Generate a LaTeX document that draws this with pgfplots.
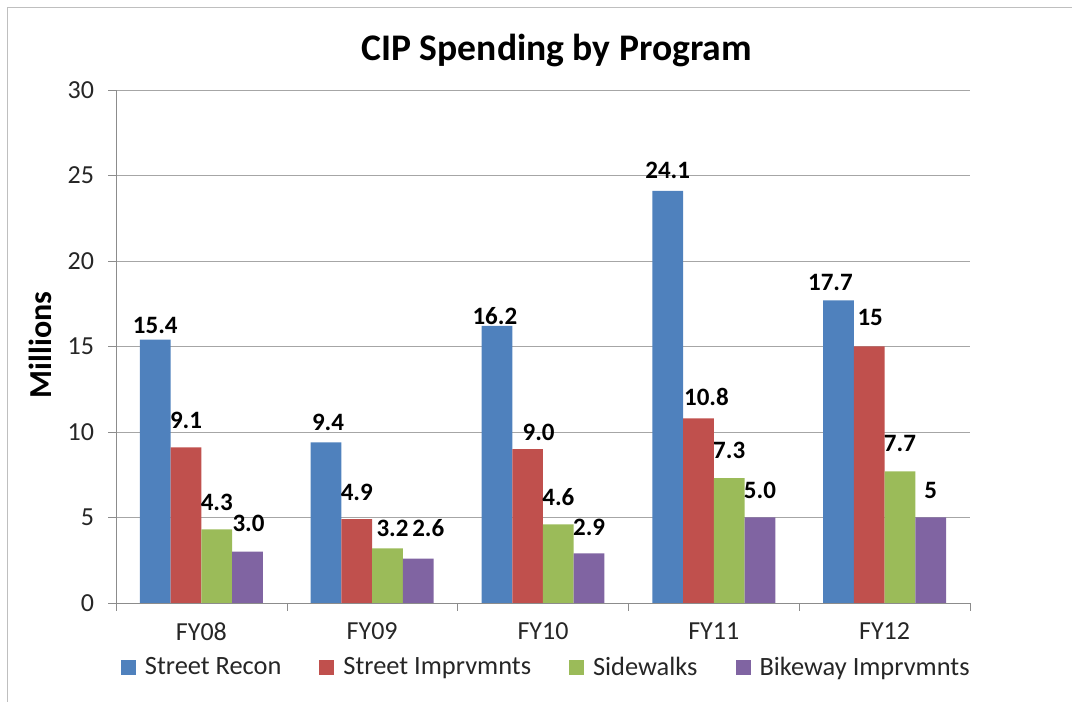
\documentclass[border=0pt]{standalone}
\usepackage{pgfplots}
\pgfplotsset{compat=1.18}
\usepackage{pgfplotstable}
\usepackage{fontspec}
\setmainfont{Carlito}
\definecolor{cblue}{HTML}{4F81BD}
\definecolor{cred}{HTML}{C0504D}
\definecolor{cgreen}{HTML}{9BBB59}
\definecolor{cpurple}{HTML}{8064A2}

\pgfplotstableread{
x y lab dx dy
0 15.4 15.4 0 14
1 9.4 9.4 2 20
2 16.2 16.2 -2 10
3 24.1 24.1 0 20
4 17.7 17.7 -8 18
}\recon
\pgfplotstableread{
x y lab dx dy
0 9.1 9.1 0 27
1 4.9 4.9 0 27
2 9.0 9.0 11 17
3 10.8 10.8 8 21
4 15 15 1 29
}\imprv
\pgfplotstableread{
x y lab dx dy
0 4.3 4.3 0 27
1 3.2 3.2 5 20
2 4.6 4.6 0 27
3 7.3 7.3 0 28
4 7.7 7.7 0 28
}\sidewalks
\pgfplotstableread{
x y lab dx dy
0 3.0 3.0 1 28
1 2.6 2.6 10 30
2 2.9 2.9 0 26
3 5.0 5.0 0 27
4 5 5 0 27
}\bikeway

\begin{document}
\begin{tikzpicture}
\path[use as bounding box] (0,0) rectangle (536pt,351pt);
\draw[black!25] (3.5pt,0) -- (3.5pt,347.5pt) -- (536pt,347.5pt);
\begin{axis}[
  at={(58pt,49.5pt)}, anchor=south west,
  scale only axis, width=427pt, height=256.5pt,
  ybar=0pt, bar width=0.18,
  xmin=-0.5, xmax=4.5, ymin=0, ymax=30,
  ytick={0,5,...,30},
  xtick={0,1,2,3,4},
  xticklabels={FY08,FY09,FY10,FY11,FY12},
  minor xtick={-0.5,0.5,1.5,2.5,3.5,4.5},
  major x tick style={draw=none},
  tick align=outside,
  axis x line*=bottom, axis y line*=left,
  ymajorgrids, grid style={black!35},
  axis line style={black!45},
  major tick length=4pt, minor tick length=4pt,
  tick style={black!45},
  /pgf/number format/assume math mode=true,
  ticklabel style={font=\fontsize{13}{15}\selectfont, text=black!85},
  yticklabel style={xshift=-3.5pt},
  xticklabel style={yshift=-2.5pt},
  title={CIP Spending by Program},
  title style={font=\fontsize{18.8}{22}\selectfont\bfseries, at={(axis description cs:0.516,1)}, anchor=center, yshift=14pt},
  ylabel={Millions},
  ylabel style={font=\fontsize{16}{18}\selectfont\bfseries, at={(axis description cs:-0.089,0.503)}, anchor=center},
  legend columns=4,
  legend style={at={(axis description cs:0.505,-0.126)}, anchor=center, draw=none,
    font=\fontsize{13.2}{15}\selectfont, text=black!85,
    /tikz/every odd column/.append style={column sep=2.5pt},
    /tikz/every even column/.append style={column sep=17pt}},
  legend image code/.code={\draw[#1,draw=none] (0pt,-3.75pt) rectangle (7.5pt,3.75pt);},
  point meta=explicit symbolic,
  nodes near coords,
  visualization depends on={\thisrow{dx} \as \dx},
  visualization depends on={\thisrow{dy} \as \dy},
  nodes near coords style={anchor=center, xshift=\dx*0.5pt, yshift=\dy*0.5pt,
    font=\fontsize{12.5}{14}\selectfont\bfseries, text=black},
]
\addplot[fill=cblue, draw=none] table[x=x, y=y, meta=lab] {\recon};
\addplot[fill=cred, draw=none] table[x=x, y=y, meta=lab] {\imprv};
\addplot[fill=cgreen, draw=none] table[x=x, y=y, meta=lab] {\sidewalks};
\addplot[fill=cpurple, draw=none] table[x=x, y=y, meta=lab] {\bikeway};
\legend{Street Recon, Street Imprvmnts, Sidewalks, Bikeway Imprvmnts}
\end{axis}
\end{tikzpicture}
\end{document}
